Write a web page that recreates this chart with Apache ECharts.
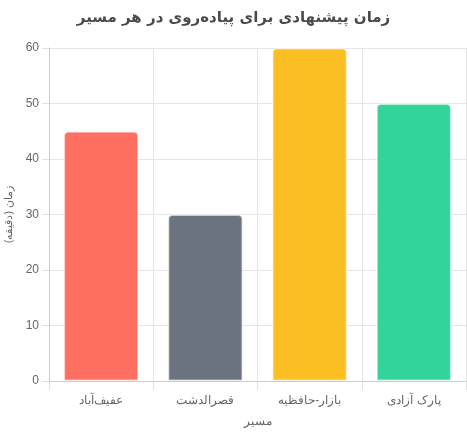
<!DOCTYPE html>
<html>
<head>
<meta charset="utf-8">
<script src="https://cdn.jsdelivr.net/npm/echarts@6/dist/echarts.min.js"></script>
<style>
  html, body { margin: 0; padding: 0; background: #fff; }
  #chart { width: 467px; height: 433px; }
</style>
</head>
<body>
<div id="chart"></div>
<script>
// مسیرها و زمان پیشنهادی (دقیقه)
var routes = ['عفیف‌آباد', 'قصرالدشت', 'بازار-حافظیه', 'پارک آزادی']
var minutes = [45, 30, 60, 50]
var barColors = ['#FF6F61', '#6B7280', '#FBBF24', '#34D399']
var yTicks = [0, 10, 20, 30, 40, 50, 60]

var myChart = echarts.init(document.getElementById('chart'))

var option = {
  animation: false,
  title: {
    text: 'زمان پیشنهادی برای پیاده‌روی در هر مسیر',
    left: 'center',
    top: 6,
    textStyle: {
      color: '#4a4a4a',
      fontSize: 15,
      fontWeight: 'bold',
      fontFamily: 'DejaVu Sans, sans-serif'
    }
  },
  grid: {
    left: 49,
    right: 1,
    top: 48,
    bottom: 52,
    outerBoundsMode: 'none'
  },
  xAxis: {
    type: 'category',
    data: routes,
    name: 'مسیر',
    nameLocation: 'middle',
    nameGap: 35,
    nameTextStyle: { color: '#666', fontSize: 12 },
    axisLine: { lineStyle: { color: '#ccc' } },
    axisTick: { show: true, alignWithLabel: false, length: 9, lineStyle: { color: '#e0e0e0' } },
    axisLabel: { color: '#666', fontSize: 12, margin: 14 },
    splitLine: { show: true, lineStyle: { color: '#e5e5e5' } }
  },
  yAxis: {
    type: 'value',
    min: yTicks[0],
    max: yTicks[yTicks.length - 1],
    interval: 10,
    name: 'زمان (دقیقه)',
    nameLocation: 'middle',
    nameGap: 33,
    nameTextStyle: { color: '#666', fontSize: 11 },
    axisLine: { show: true, lineStyle: { color: '#ccc' } },
    axisTick: { show: true, length: 7, lineStyle: { color: '#e0e0e0' } },
    axisLabel: { color: '#666', fontSize: 12, margin: 10 },
    splitLine: { lineStyle: { color: '#e5e5e5' } }
  },
  series: [
    {
      type: 'bar',
      barCategoryGap: '28%',
      data: minutes.map(function (v, i) {
        return {
          value: v,
          itemStyle: {
            color: barColors[i],
            borderColor: 'rgba(255,255,255,0.55)',
            borderWidth: 1.5,
            borderRadius: [4, 4, 0, 0]
          }
        }
      })
    }
  ]
}

myChart.setOption(option)
</script>
</body>
</html>
